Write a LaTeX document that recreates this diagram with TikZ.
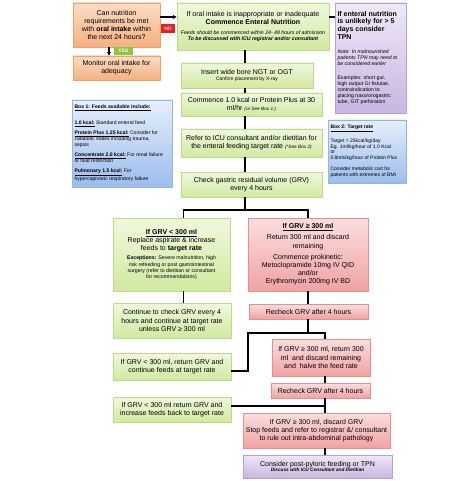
\documentclass[tikz,border=0pt]{standalone}
\usepackage{fontspec}
\setmainfont{Liberation Sans}
\usetikzlibrary{shadows,arrows.meta}
\newcommand\fmain{\fontsize{7}{8.2}\selectfont}
\newcommand\fbig{\fontsize{7}{7.7}\selectfont}
\newcommand\fsm{\fontsize{5.2}{6.2}\selectfont}
\newcommand\fxs{\fontsize{4.7}{5.3}\selectfont}
\newcommand\fbx{\fontsize{5.1}{6}\selectfont}
\definecolor{orT}{HTML}{FCDCC4}
\definecolor{orB}{HTML}{F5B07E}
\definecolor{orD}{HTML}{EDA16C}
\definecolor{grT}{HTML}{F0F8DD}
\definecolor{grB}{HTML}{D0EA9F}
\definecolor{grD}{HTML}{BCDB8A}
\definecolor{rdT}{HTML}{FBDEDE}
\definecolor{rdB}{HTML}{F0A2A2}
\definecolor{rdD}{HTML}{E59090}
\definecolor{puT}{HTML}{EEE8F6}
\definecolor{puB}{HTML}{C9B6E2}
\definecolor{puD}{HTML}{B6A1D5}
\definecolor{blT}{HTML}{E6EFFB}
\definecolor{blB}{HTML}{9BBDEE}
\definecolor{blD}{HTML}{9AB3D8}
\definecolor{noR}{HTML}{E02424}
\definecolor{yesG}{HTML}{8DC63F}
\begin{document}
\begin{tikzpicture}[x=1pt,y=-1pt,
  base/.style={draw, line width=0.6pt, inner xsep=-4pt, inner ysep=1pt, align=flush center, font=\fmain,
    drop shadow={shadow xshift=1pt,shadow yshift=-1.2pt,opacity=0.25}},
  lbox/.style={inner xsep=2.5pt, align=flush left},
  obox/.style={base, top color=orT, bottom color=orB, draw=orD},
  gbox/.style={base, top color=grT, bottom color=grB, draw=grD},
  rbox/.style={base, top color=rdT, bottom color=rdB, draw=rdD},
  pbox/.style={base, top color=puT, bottom color=puB, draw=puD},
  bbox/.style={base, top color=blT, bottom color=blB, draw=blD},
  tagbox/.style={inner sep=0pt, font=\fontsize{5}{6}\selectfont\bfseries},
  ln/.style={line width=1.4pt, black},
  arr/.style={ln, -{Triangle[length=3.5pt,width=3.5pt]}}]
\useasboundingbox (0,0) rectangle (474,481);

% coordinates for connector lines
\coordinate (ax) at (109,0);
\coordinate (ay) at (0,17);
\coordinate (tx) at (245,0);
\coordinate (br) at (245,210);
\coordinate (lx) at (183.5,0);
\coordinate (rx) at (308,0);
\coordinate (mx) at (325,0);
\coordinate (b2) at (308,333);
\coordinate (k1) at (248,333);
\coordinate (k2) at (0,371);
\coordinate (q1) at (325,406);

\node[obox, minimum width=87pt, text width=95pt, minimum height=44pt] (A) at (116.5,25)
  {\fmain Can nutrition\\ requirements be met\\ with \textbf{oral intake} within\\ the next 24 hours?\par};
\node[obox, minimum width=87pt, text width=95pt, minimum height=24pt] (B) at (116.5,68)
  {\fmain Monitor oral intake for\\ adequacy\par};
\node[tagbox, fill=yesG, text=white, minimum width=19pt, minimum height=7.5pt] (Y) at (123.5,51) {YES};
\node[tagbox, fill=noR, text=white!75!noR, minimum width=14pt, minimum height=9pt] (NO) at (168,28.5) {NO};

\node[gbox, minimum width=152pt, text width=160pt, minimum height=47pt] (C) at (253,26.5)
  {{\fmain If oral intake is inappropriate or inadequate\\ \textbf{Commence Enteral Nutrition}\par}\vspace{4pt}
   {\fsm\itshape Feeds should be commenced within 24- 48 hours of admission\\ \bfseries To be discussed with ICU registrar and/or consultant\par}};

\node[pbox, lbox, minimum width=71pt, text width=66pt, minimum height=110pt] (D) at (370.5,58)
  {{\fbig\bfseries If enteral nutrition\\ is unlikely for > 5\\ days consider\\ TPN\par}\vspace{8pt}
   {\fsm\itshape Note: In malnourished\\ patients TPN may need to\\ be considered earlier\par}\vspace{7pt}
   {\fsm Examples: short gut,\\ high output GI fistulae,\\ contraindication to\\ placing naso/orogastric\\ tube, GIT perforation\par}};

\node[gbox, minimum width=132pt, text width=140pt, minimum height=25pt] (E) at (247,75.5)
  {{\fmain Insert wide bore NGT or OGT\par}{\fontsize{5}{6}\selectfont Confirm placement by X-ray\par}};
\node[gbox, minimum width=141pt, text width=149pt, minimum height=23pt] (F) at (251.5,104.5)
  {\fmain Commence 1.0 kcal or Protein Plus at 30\\ ml/hr {\fxs\itshape (or See Box 1.)}\par};
\node[gbox, minimum width=141pt, text width=149pt, minimum height=28pt] (G) at (251.5,143)
  {\fmain Refer to ICU consultant and/or dietitian for\\ the enteral feeding target rate {\fxs\itshape (*See Box 2)}\par};
\node[gbox, minimum width=141pt, text width=149pt, minimum height=25pt] (H) at (251.5,184.5)
  {\fmain Check gastric residual volume (GRV)\\ every 4 hours\par};

\node[bbox, lbox, minimum width=100pt, text width=95pt, minimum height=87pt] (BX1) at (122,143.5)
  {\fbx\underline{\textbf{Box 1: Feeds available include:}}\par\vspace{10pt}
   \underline{\textbf{1.0 kcal:}} Standard enteral feed\par\vspace{4pt}
   \underline{\textbf{Protein Plus 1.25 kcal:}} Consider for\\ catabolic states including trauma,\\ sepsis\par\vspace{4pt}
   \underline{\textbf{Concentrate 2.0 kcal:}} For renal failure\\ or fluid restriction\par\vspace{4pt}
   \underline{\textbf{Pulmonary 1.5 kcal:}} For\\ hypercapnoeic respiratory failure\par};

\node[bbox, lbox, minimum width=78pt, text width=73pt, minimum height=63pt] (BX2) at (367,151.5)
  {\fontsize{5}{5.6}\selectfont\underline{\textbf{Box 2: Target rate}}\par\vspace{6pt}
   Target = 25kcal/kg/day\\ Eg. 1ml/kg/hour of 1.0 Kcal\\ or\\ 0.8mls/kg/hour of Protein Plus\par\vspace{6pt}
   Consider metabolic cart for\\ patients with extremes of BMI\par};

\node[gbox, minimum width=117pt, text width=125pt, minimum height=73pt] (I) at (171.5,254.5)
  {{\fmain\underline{\textbf{If GRV < 300 ml}}\\ Replace aspirate \& increase\\ feeds to \textbf{target rate}\par}\vspace{3pt}
   {\fsm\textbf{Exceptions:} Severe malnutrition, high\\ risk refeeding or post gastrointestinal\\ surgery (refer to dietitian or consultant\\ for recommendations)\par}};
\node[rbox, minimum width=120pt, text width=128pt, minimum height=73pt] (J) at (308,254.5)
  {\fmain\underline{\textbf{If GRV ≥ 300 ml}}\par\vspace{3pt}
   Return 300 ml and discard\\ remaining\par\vspace{3pt}
   Commence prokinetic:\\ Metoclopramide 10mg IV QID\\ and/or\\ Erythromycin 200mg IV BD\par};

\node[gbox, minimum width=118pt, text width=126pt, minimum height=35pt] (K) at (172,320.5)
  {\fmain Continue to check GRV every 4\\ hours and continue at target rate\\ unless GRV ≥ 300 ml\par};
\node[rbox, minimum width=119pt, text width=127pt, minimum height=15pt] (L) at (308.5,311.5)
  {\fmain Recheck GRV after 4 hours\par};
\node[rbox, minimum width=98pt, text width=106pt, minimum height=37pt] (M) at (321,357.5)
  {\fmain If GRV ≥ 300 ml, return 300\\ ml\ \ and discard remaining\\ and\ \ halve the feed rate\par};
\node[gbox, minimum width=118pt, text width=126pt, minimum height=27pt] (N) at (172,366.5)
  {\fmain If GRV < 300 ml, return GRV and\\ continue feeds at target rate\par};
\node[rbox, minimum width=99pt, text width=107pt, minimum height=15pt] (O) at (320.5,390.5)
  {\fmain Recheck GRV after 4 hours\par};
\node[gbox, minimum width=118pt, text width=126pt, minimum height=25pt] (P) at (172,409.5)
  {\fmain If GRV < 300 ml return GRV and\\ increase feeds back to target rate\par};
\node[rbox, minimum width=147pt, text width=155pt, minimum height=35pt] (Q) at (316.5,430.5)
  {\fmain If GRV ≥ 300 ml, discard GRV\\ Stop feeds and refer to registrar \&/ consultant\\ to rule out intra-abdominal pathology\par};
\node[pbox, minimum width=149pt, text width=157pt, minimum height=23pt] (R) at (317.5,466.5)
  {{\fmain Consider post-pyloric feeding or TPN\par}{\fxs\bfseries\itshape Discuss with ICU Consultant and Dietitian\par}};

% connectors
\draw[arr] (A.south -| ax) -- (B.north -| ax);
\draw[arr] (A.east |- ay) -- (C.west |- ay);
\draw[ln] (C.east |- ay) -- (D.west |- ay);
\draw[ln] (C.south -| tx) -- (E.north -| tx);
\draw[ln] (E.south -| tx) -- (F.north -| tx);
\draw[ln] (F.south -| tx) -- (G.north -| tx);
\draw[ln] (G.south -| tx) -- (H.north -| tx);
\draw[ln] (H.south -| tx) -- (br);
\draw[ln] (I.north -| lx) |- (br) -| (J.north -| rx);
\draw[ln] (I.south -| lx) -- (K.north -| lx);
\draw[ln] (J.south -| rx) -- (L.north -| rx);
\draw[ln] (L.south -| rx) -- (b2);
\draw[ln] (M.north -| mx) |- (b2);
\draw[ln] (N.east |- k2) -| (k1) -- (b2);
\draw[ln] (M.south -| mx) -- (O.north -| mx);
\draw[ln] (O.south -| mx) -- (Q.north -| mx);
\draw[ln] (P.east |- q1) -- (q1);
\draw[ln] (Q.south -| mx) -- (R.north -| mx);
\end{tikzpicture}
\end{document}
